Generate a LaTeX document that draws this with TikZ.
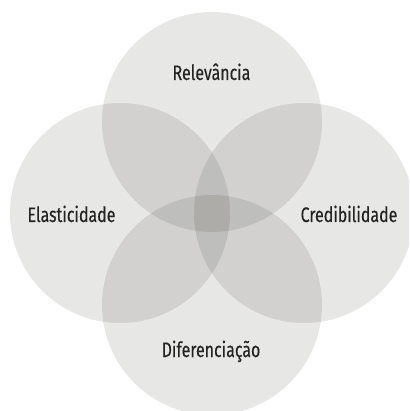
\documentclass[tikz,border=0pt]{standalone}
\usepackage{fontspec}
\newfontfamily\lblfont[FakeStretch=0.76,FakeBold=0.2]{Fira Sans}
\begin{document}
\begin{tikzpicture}[x=1pt,y=-1pt,
  petal/.style={fill={rgb,255:red,20;green,18;blue,10}, fill opacity=0.1, draw=none},
  lbl/.style={text={rgb,255:red,35;green,35;blue,35}, font=\lblfont\fontsize{21}{23}\selectfont, inner sep=0pt, anchor=base}]
  \useasboundingbox (0,0) rectangle (409,411);
  \begin{scope}
    \clip (0,0) rectangle (409,411);
    % four overlapping circles
    \fill[petal] (212,122) circle[radius=110pt];
    \fill[petal] (120,213) circle[radius=110pt];
    \fill[petal] (304,213) circle[radius=110pt];
    \fill[petal] (212,305) circle[radius=110pt];
  \end{scope}
  % labels
  \node[lbl] (rel) at (211.5,80) {Relevância};
  \node[lbl] (ela) at (71.5,222) {Elasticidade};
  \node[lbl] (cre) at (349,222) {Credibilidade};
  \node[lbl] (dif) at (211,357) {Diferenciação};
\end{tikzpicture}
\end{document}
